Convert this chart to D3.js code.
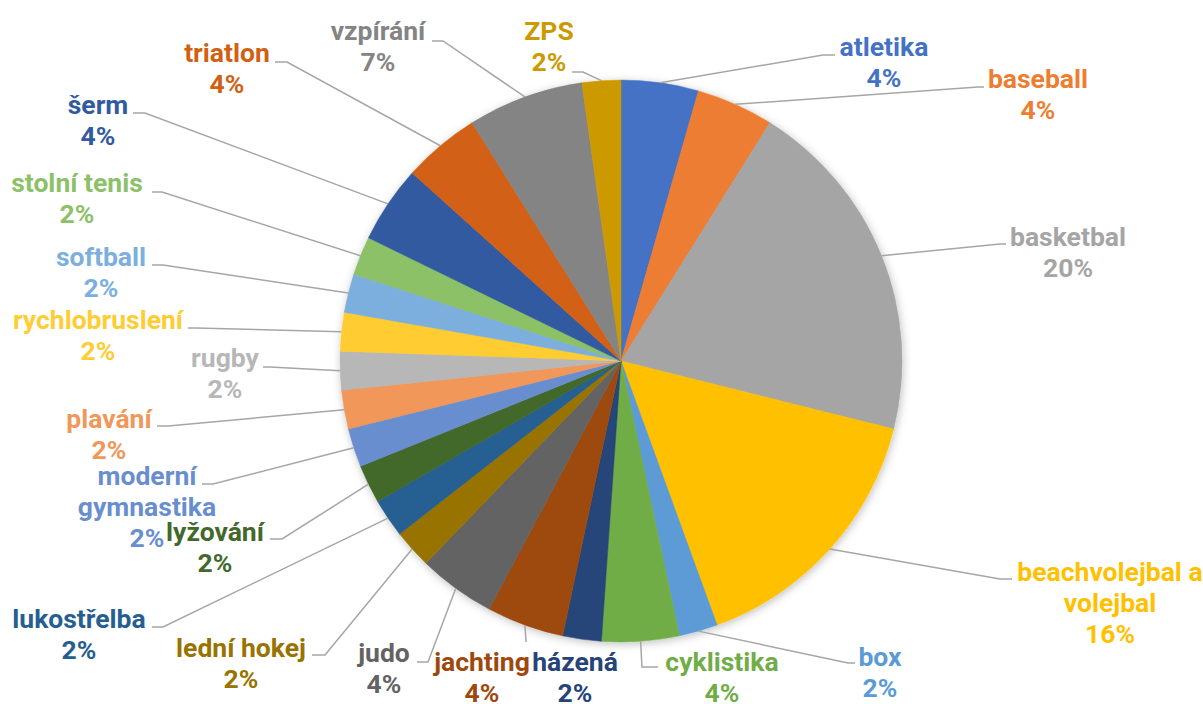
<!DOCTYPE html>
<html>
<head>
<meta charset="utf-8">
<script src="https://cdn.jsdelivr.net/npm/d3@7"></script>
<style>
  html, body { margin: 0; padding: 0; background: #fff; }
  svg { display: block; }
  text { font-family: Roboto, "Noto Sans", sans-serif; font-weight: 700; }
</style>
</head>
<body>
<svg id="chart" width="1203" height="704"></svg>
<script>
// ---- data ----
const categories = ["atletika", "baseball", "basketbal", "beachvolejbal a volejbal", "box", "cyklistika",
  "házená", "jachting", "judo", "lední hokej", "lukostřelba", "lyžování", "moderní gymnastika",
  "plavání", "rugby", "rychlobruslení", "softball", "stolní tenis", "šerm", "triatlon", "vzpírání", "ZPS"];
const counts = [2, 2, 9, 7, 1, 2, 1, 2, 2, 1, 1, 1, 1, 1, 1, 1, 1, 1, 2, 2, 3, 1];
const labelLines = [["atletika"], ["baseball"], ["basketbal"], ["beachvolejbal a", "volejbal"], ["box"], ["cyklistika"],
  ["házená"], ["jachting"], ["judo"], ["lední hokej"], ["lukostřelba"], ["lyžování"], ["moderní", "gymnastika"],
  ["plavání"], ["rugby"], ["rychlobruslení"], ["softball"], ["stolní tenis"], ["šerm"], ["triatlon"], ["vzpírání"], ["ZPS"]];

// ---- styles ----
const colors = ["#4472C4", "#ED7D31", "#A5A5A5", "#FFC000", "#5B9BD5", "#70AD47",
  "#264478", "#9E480E", "#636363", "#997300", "#255E91", "#43682B", "#698ED0",
  "#F1975A", "#B7B7B7", "#FFCD33", "#7CAFDD", "#8CC168", "#335AA1", "#D26012", "#848484", "#CC9A00"];

// ---- label layout (text centre x, first baseline y, leader elbow, leader end x) ----
const labelLayout = [
  { x: 884, y: 56, elbow: [823, 55], endX: 835 },
  { x: 1038, y: 88, elbow: [978, 87], endX: 984 },
  { x: 1068, y: 246, elbow: [1000, 244], endX: 1006 },
  { x: 1110, y: 581, elbow: [1000, 579], endX: 1012 },
  { x: 880, y: 666, elbow: [848, 663], endX: 855 },
  { x: 722, y: 671, elbow: [642, 667], endX: 658 },
  { x: 575, y: 671, elbow: null, endX: null },
  { x: 482, y: 671, elbow: [526, 642], endX: 526 },
  { x: 384, y: 662, elbow: [428, 662], endX: 417 },
  { x: 241, y: 657, elbow: [325, 655], endX: 312 },
  { x: 79, y: 628, elbow: [163, 627], endX: 152 },
  { x: 215, y: 541, elbow: [282, 539], endX: 270 },
  { x: 147, y: 485, elbow: [213, 484], endX: 202 },
  { x: 109, y: 428, elbow: [168, 426], endX: 157 },
  { x: 225, y: 367, elbow: [270, 367], endX: 263 },
  { x: 98, y: 329, elbow: [196, 328], endX: 188 },
  { x: 101, y: 266, elbow: [163, 265], endX: 152 },
  { x: 77, y: 192, elbow: [162, 192], endX: 152 },
  { x: 98, y: 114, elbow: [145, 113], endX: 133 },
  { x: 227, y: 62, elbow: [287, 62], endX: 275 },
  { x: 378, y: 40, elbow: [443, 41], endX: 432 },
  { x: 549, y: 40, elbow: [583, 72], endX: 572 }
];

const cx = 621, cy = 361, radius = 281;
const fontSize = 26.5, lineH = 31;

const svg = d3.select("#chart");
const defs = svg.append("defs");
const f = defs.append("filter").attr("id", "shadow").attr("x", "-10%").attr("y", "-10%").attr("width", "120%").attr("height", "120%");
f.append("feDropShadow").attr("dx", 1).attr("dy", 2).attr("stdDeviation", 4)
  .attr("flood-color", "#000").attr("flood-opacity", 0.25);

const total = d3.sum(counts);
const data = categories.map((c, i) => ({ name: c, value: counts[i], i }));

const pie = d3.pie().value(d => d.value).sort(null);
const arcs = pie(data);
const arc = d3.arc().innerRadius(0).outerRadius(radius);
const edgeArc = d3.arc().innerRadius(radius).outerRadius(radius);

const g = svg.append("g").attr("transform", `translate(${cx},${cy})`);
g.append("g").attr("filter", "url(#shadow)")
  .selectAll("path").data(arcs).join("path")
  .attr("d", arc)
  .attr("fill", d => colors[d.data.i])
  .attr("stroke", d => colors[d.data.i])
  .attr("stroke-width", 0.5);

// leader lines
const lines = svg.append("g");
arcs.forEach(d => {
  const L = labelLayout[d.data.i];
  if (!L.elbow) return;
  const c = edgeArc.centroid(d);
  const p0 = [cx + c[0], cy + c[1]];
  const pts = [p0, L.elbow, [L.endX, L.elbow[1]]];
  lines.append("path")
    .attr("d", d3.line()(pts))
    .attr("fill", "none")
    .attr("stroke", "#A6A6A6")
    .attr("stroke-width", 1.5);
});

// labels
const labels = svg.append("g");
arcs.forEach(d => {
  const i = d.data.i;
  const L = labelLayout[i];
  const pct = Math.round(d.data.value / total * 100) + "%";
  const rows = labelLines[i].concat([pct]);
  const t = labels.append("text")
    .attr("text-anchor", "middle")
    .attr("font-size", fontSize)
    .attr("fill", colors[i]);
  rows.forEach((r, k) => {
    t.append("tspan").attr("x", L.x).attr("y", L.y + k * lineH).text(r);
  });
});
</script>
</body>
</html>
